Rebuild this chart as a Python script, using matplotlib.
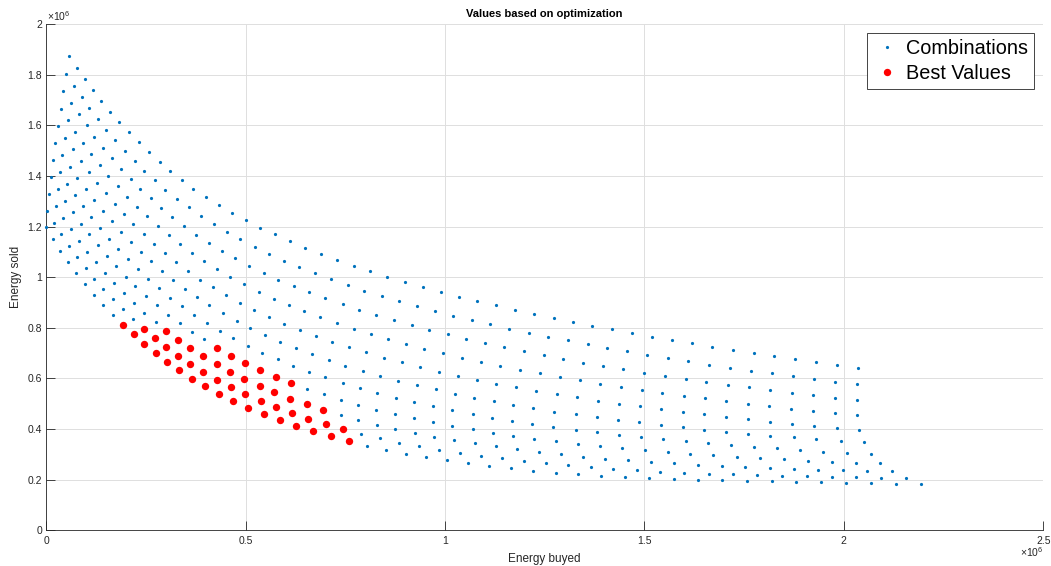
import numpy as np
import matplotlib.pyplot as plt

plt.rcParams.update({
    "font.family": ["Liberation Sans", "DejaVu Sans"],
    "mathtext.fontset": "custom",
    "mathtext.rm": "Liberation Sans",
    "mathtext.it": "Liberation Sans:italic",
})

# values in units of 1e6, one list per grid column (11 combinations each)
energy_buyed = [
    [0.058, 0.050, 0.043, 0.036, 0.030, 0.023, 0.018, 0.012, 0.008, 0.003, 0.000],
    [0.077, 0.069, 0.061, 0.054, 0.047, 0.040, 0.035, 0.030, 0.025, 0.020, 0.018],
    [0.097, 0.089, 0.081, 0.073, 0.067, 0.060, 0.053, 0.048, 0.043, 0.038, 0.035],
    [0.117, 0.108, 0.101, 0.093, 0.086, 0.078, 0.072, 0.067, 0.062, 0.058, 0.055],
    [0.138, 0.130, 0.121, 0.113, 0.106, 0.099, 0.092, 0.087, 0.082, 0.078, 0.075],
    [0.160, 0.151, 0.142, 0.134, 0.127, 0.120, 0.112, 0.107, 0.102, 0.099, 0.097],
    [0.183, 0.173, 0.164, 0.156, 0.149, 0.142, 0.136, 0.129, 0.124, 0.121, 0.120],
    [0.207, 0.197, 0.188, 0.179, 0.172, 0.164, 0.158, 0.152, 0.147, 0.143, 0.143],
    [0.232, 0.222, 0.212, 0.203, 0.195, 0.188, 0.181, 0.175, 0.170, 0.167, 0.168],
    [0.257, 0.246, 0.236, 0.227, 0.218, 0.212, 0.205, 0.199, 0.194, 0.192, 0.193],
    [0.284, 0.272, 0.262, 0.252, 0.245, 0.237, 0.229, 0.223, 0.220, 0.218, 0.219],
    [0.311, 0.299, 0.289, 0.279, 0.270, 0.262, 0.255, 0.250, 0.246, 0.245, 0.246],
    [0.340, 0.328, 0.316, 0.309, 0.297, 0.290, 0.283, 0.277, 0.274, 0.272, 0.275],
    [0.369, 0.358, 0.346, 0.336, 0.326, 0.318, 0.310, 0.305, 0.301, 0.300, 0.304],
    [0.401, 0.389, 0.376, 0.366, 0.356, 0.347, 0.341, 0.335, 0.331, 0.330, 0.334],
    [0.433, 0.420, 0.408, 0.396, 0.386, 0.377, 0.371, 0.365, 0.361, 0.361, 0.366],
    [0.467, 0.453, 0.440, 0.429, 0.418, 0.409, 0.403, 0.396, 0.393, 0.394, 0.399],
    [0.501, 0.487, 0.474, 0.462, 0.452, 0.443, 0.435, 0.429, 0.427, 0.428, 0.433],
    [0.536, 0.523, 0.509, 0.497, 0.486, 0.478, 0.469, 0.463, 0.461, 0.463, 0.469],
    [0.573, 0.559, 0.545, 0.533, 0.522, 0.512, 0.505, 0.499, 0.497, 0.499, 0.507],
    [0.611, 0.596, 0.582, 0.571, 0.559, 0.549, 0.542, 0.536, 0.537, 0.538, 0.545],
    [0.649, 0.635, 0.621, 0.608, 0.597, 0.587, 0.580, 0.575, 0.572, 0.576, 0.586],
    [0.689, 0.674, 0.660, 0.647, 0.636, 0.626, 0.618, 0.613, 0.612, 0.616, 0.627],
    [0.730, 0.714, 0.700, 0.687, 0.677, 0.667, 0.659, 0.655, 0.653, 0.657, 0.670],
    [0.771, 0.756, 0.743, 0.729, 0.717, 0.708, 0.700, 0.696, 0.695, 0.701, 0.713],
    [0.813, 0.798, 0.784, 0.771, 0.760, 0.750, 0.743, 0.739, 0.738, 0.744, 0.759],
    [0.855, 0.841, 0.827, 0.815, 0.803, 0.794, 0.786, 0.783, 0.783, 0.789, 0.805],
    [0.900, 0.885, 0.871, 0.858, 0.847, 0.838, 0.830, 0.828, 0.829, 0.837, 0.853],
    [0.944, 0.929, 0.916, 0.902, 0.892, 0.883, 0.876, 0.874, 0.875, 0.885, 0.902],
    [0.989, 0.974, 0.961, 0.948, 0.938, 0.930, 0.923, 0.922, 0.924, 0.935, 0.952],
    [1.034, 1.020, 1.007, 0.995, 0.985, 0.977, 0.971, 0.970, 0.973, 0.986, 1.004],
    [1.081, 1.067, 1.053, 1.042, 1.033, 1.024, 1.018, 1.018, 1.023, 1.037, 1.057],
    [1.128, 1.114, 1.101, 1.090, 1.080, 1.073, 1.069, 1.070, 1.075, 1.089, 1.110],
    [1.175, 1.161, 1.149, 1.138, 1.129, 1.122, 1.118, 1.120, 1.128, 1.142, 1.165],
    [1.223, 1.210, 1.197, 1.187, 1.179, 1.171, 1.168, 1.171, 1.181, 1.197, 1.221],
    [1.272, 1.259, 1.247, 1.238, 1.229, 1.221, 1.219, 1.224, 1.235, 1.253, 1.277],
    [1.320, 1.308, 1.296, 1.288, 1.280, 1.273, 1.270, 1.278, 1.290, 1.308, 1.334],
    [1.369, 1.358, 1.347, 1.339, 1.332, 1.328, 1.329, 1.334, 1.346, 1.365, 1.392],
    [1.418, 1.407, 1.397, 1.389, 1.384, 1.380, 1.382, 1.389, 1.402, 1.422, 1.451],
    [1.468, 1.457, 1.447, 1.441, 1.436, 1.434, 1.437, 1.445, 1.460, 1.482, 1.512],
    [1.518, 1.507, 1.500, 1.493, 1.489, 1.487, 1.492, 1.502, 1.517, 1.540, 1.573],
    [1.569, 1.558, 1.551, 1.545, 1.542, 1.542, 1.547, 1.558, 1.575, 1.600, 1.634],
    [1.619, 1.610, 1.603, 1.599, 1.596, 1.597, 1.603, 1.615, 1.634, 1.661, 1.695],
    [1.670, 1.662, 1.655, 1.651, 1.650, 1.650, 1.660, 1.673, 1.694, 1.722, 1.757],
    [1.722, 1.714, 1.709, 1.705, 1.705, 1.704, 1.716, 1.732, 1.753, 1.783, 1.819],
    [1.774, 1.767, 1.762, 1.760, 1.759, 1.759, 1.774, 1.790, 1.814, 1.846, 1.881],
    [1.826, 1.819, 1.815, 1.813, 1.814, 1.814, 1.833, 1.849, 1.875, 1.907, 1.944],
    [1.878, 1.873, 1.869, 1.868, 1.870, 1.874, 1.890, 1.910, 1.936, 1.970, 2.006],
    [1.930, 1.925, 1.923, 1.923, 1.926, 1.930, 1.949, 1.970, 1.997, 2.031, 2.069],
    [1.984, 1.979, 1.977, 1.978, 1.982, 1.992, 2.007, 2.031, 2.059, 2.094, 2.131],
    [2.036, 2.033, 2.032, 2.033, 2.039, 2.050, 2.067, 2.091, 2.121, 2.156, 2.194],
]

energy_sold = [
    [1.873, 1.803, 1.735, 1.666, 1.597, 1.529, 1.462, 1.395, 1.329, 1.262, 1.197],
    [1.828, 1.757, 1.688, 1.620, 1.550, 1.483, 1.415, 1.347, 1.281, 1.214, 1.150],
    [1.783, 1.713, 1.644, 1.574, 1.505, 1.437, 1.369, 1.301, 1.235, 1.170, 1.105],
    [1.740, 1.670, 1.600, 1.529, 1.460, 1.391, 1.325, 1.256, 1.189, 1.123, 1.060],
    [1.696, 1.626, 1.555, 1.486, 1.417, 1.349, 1.280, 1.211, 1.144, 1.079, 1.015],
    [1.654, 1.582, 1.512, 1.443, 1.373, 1.304, 1.237, 1.170, 1.101, 1.035, 0.973],
    [1.612, 1.541, 1.470, 1.401, 1.332, 1.262, 1.194, 1.126, 1.059, 0.993, 0.931],
    [1.573, 1.500, 1.429, 1.359, 1.289, 1.221, 1.152, 1.084, 1.018, 0.952, 0.889],
    [1.533, 1.460, 1.389, 1.318, 1.249, 1.179, 1.110, 1.043, 0.977, 0.913, 0.850],
    [1.494, 1.421, 1.350, 1.279, 1.209, 1.139, 1.071, 1.002, 0.936, 0.873, 0.812],
    [1.456, 1.383, 1.312, 1.241, 1.170, 1.100, 1.031, 0.964, 0.898, 0.834, 0.774],
    [1.420, 1.346, 1.273, 1.202, 1.131, 1.063, 0.993, 0.926, 0.860, 0.797, 0.737],
    [1.384, 1.310, 1.238, 1.167, 1.094, 1.025, 0.956, 0.889, 0.822, 0.761, 0.701],
    [1.350, 1.276, 1.202, 1.130, 1.059, 0.989, 0.919, 0.852, 0.787, 0.724, 0.666],
    [1.316, 1.242, 1.168, 1.096, 1.025, 0.955, 0.885, 0.818, 0.752, 0.690, 0.632],
    [1.284, 1.210, 1.136, 1.063, 0.990, 0.921, 0.852, 0.785, 0.719, 0.657, 0.599],
    [1.254, 1.179, 1.105, 1.031, 0.960, 0.889, 0.819, 0.755, 0.688, 0.626, 0.569],
    [1.225, 1.150, 1.075, 1.001, 0.929, 0.857, 0.787, 0.720, 0.656, 0.595, 0.540],
    [1.196, 1.121, 1.046, 0.972, 0.898, 0.827, 0.759, 0.690, 0.626, 0.565, 0.511],
    [1.170, 1.092, 1.017, 0.943, 0.869, 0.798, 0.729, 0.662, 0.598, 0.539, 0.484],
    [1.142, 1.065, 0.990, 0.915, 0.843, 0.770, 0.702, 0.635, 0.570, 0.512, 0.458],
    [1.117, 1.039, 0.964, 0.889, 0.816, 0.744, 0.676, 0.607, 0.545, 0.486, 0.435],
    [1.092, 1.015, 0.940, 0.865, 0.791, 0.719, 0.650, 0.583, 0.520, 0.462, 0.412],
    [1.068, 0.992, 0.917, 0.842, 0.768, 0.695, 0.627, 0.558, 0.498, 0.440, 0.391],
    [1.045, 0.968, 0.893, 0.818, 0.745, 0.673, 0.605, 0.537, 0.475, 0.419, 0.371],
    [1.023, 0.947, 0.870, 0.797, 0.723, 0.650, 0.582, 0.516, 0.454, 0.399, 0.352],
    [1.002, 0.926, 0.851, 0.776, 0.703, 0.629, 0.561, 0.496, 0.435, 0.381, 0.334],
    [0.981, 0.906, 0.830, 0.756, 0.682, 0.610, 0.541, 0.477, 0.416, 0.364, 0.317],
    [0.961, 0.886, 0.810, 0.736, 0.664, 0.591, 0.523, 0.460, 0.400, 0.346, 0.303],
    [0.942, 0.867, 0.791, 0.718, 0.645, 0.574, 0.506, 0.444, 0.383, 0.332, 0.288],
    [0.923, 0.848, 0.774, 0.699, 0.627, 0.557, 0.490, 0.428, 0.369, 0.317, 0.277],
    [0.906, 0.830, 0.756, 0.682, 0.610, 0.540, 0.474, 0.412, 0.356, 0.305, 0.265],
    [0.889, 0.814, 0.740, 0.666, 0.594, 0.524, 0.460, 0.399, 0.344, 0.294, 0.254],
    [0.872, 0.797, 0.723, 0.650, 0.579, 0.510, 0.445, 0.386, 0.332, 0.285, 0.245],
    [0.856, 0.781, 0.707, 0.635, 0.565, 0.495, 0.432, 0.374, 0.320, 0.274, 0.235],
    [0.840, 0.765, 0.691, 0.620, 0.550, 0.482, 0.420, 0.362, 0.311, 0.265, 0.228],
    [0.824, 0.751, 0.678, 0.607, 0.537, 0.469, 0.408, 0.353, 0.300, 0.257, 0.222],
    [0.808, 0.735, 0.662, 0.593, 0.526, 0.460, 0.398, 0.342, 0.291, 0.249, 0.215],
    [0.794, 0.720, 0.649, 0.579, 0.512, 0.448, 0.387, 0.332, 0.283, 0.242, 0.209],
    [0.780, 0.707, 0.636, 0.567, 0.500, 0.437, 0.378, 0.324, 0.277, 0.237, 0.206],
    [0.765, 0.694, 0.623, 0.556, 0.490, 0.427, 0.367, 0.316, 0.270, 0.232, 0.202],
    [0.752, 0.680, 0.611, 0.544, 0.478, 0.417, 0.360, 0.309, 0.265, 0.228, 0.199],
    [0.739, 0.668, 0.599, 0.532, 0.467, 0.407, 0.352, 0.303, 0.259, 0.224, 0.198],
    [0.725, 0.654, 0.587, 0.522, 0.458, 0.398, 0.344, 0.296, 0.254, 0.221, 0.195],
    [0.712, 0.642, 0.575, 0.511, 0.448, 0.390, 0.337, 0.290, 0.250, 0.219, 0.194],
    [0.699, 0.631, 0.565, 0.500, 0.439, 0.382, 0.330, 0.285, 0.246, 0.216, 0.191],
    [0.688, 0.620, 0.553, 0.490, 0.429, 0.374, 0.324, 0.281, 0.243, 0.215, 0.190],
    [0.676, 0.609, 0.544, 0.480, 0.421, 0.367, 0.317, 0.275, 0.239, 0.212, 0.187],
    [0.664, 0.598, 0.533, 0.471, 0.413, 0.361, 0.311, 0.271, 0.237, 0.211, 0.186],
    [0.653, 0.587, 0.524, 0.462, 0.405, 0.353, 0.307, 0.267, 0.236, 0.208, 0.184],
    [0.642, 0.577, 0.515, 0.454, 0.398, 0.348, 0.302, 0.265, 0.233, 0.207, 0.183],
]

# which rows of each column were picked as best values
best_rows = {
    9: [10], 10: [10], 11: [9, 10], 12: [9, 10],
    13: [8, 9, 10], 14: [8, 9, 10], 15: [8, 9, 10], 16: [8, 9, 10],
    17: [7, 8, 9, 10], 18: [7, 8, 9, 10], 19: [7, 8, 9, 10],
    20: [7, 8, 9, 10], 21: [7, 8, 9, 10], 22: [7, 8, 9, 10],
    23: [8, 9, 10], 24: [8, 9, 10], 25: [9, 10],
}

buy = np.array(energy_buyed)
sold = np.array(energy_sold)
best_x = [buy[c, r] for c, rows in best_rows.items() for r in rows]
best_y = [sold[c, r] for c, rows in best_rows.items() for r in rows]

dark = "#262626"

fig = plt.figure(figsize=(10.51, 5.66), dpi=100)
ax = fig.add_axes([0.044, 0.0631, 0.9486, 0.8942])

ax.plot(buy.ravel(), sold.ravel(), linestyle="none", marker="o", ms=2.3,
        mew=0, color="#0072BD", label="Combinations", clip_on=False, zorder=3)
ax.plot(best_x, best_y, linestyle="none", marker="o", ms=5.3, mew=0,
        color="#FF0000", label="Best Values", zorder=4)

ax.set_xlim(0, 2.5)
ax.set_ylim(0, 2)
ax.set_xticks(np.arange(0, 2.51, 0.5))
ax.set_yticks(np.arange(0, 2.01, 0.2))
ax.xaxis.set_major_formatter(plt.FuncFormatter(lambda v, p: f"{v:g}"))
ax.yaxis.set_major_formatter(plt.FuncFormatter(lambda v, p: f"{v:g}"))

ax.grid(True, color="#dedede", linewidth=0.7)
ax.set_axisbelow(True)
for side in ["top", "right"]:
    ax.spines[side].set_visible(False)
for side in ["left", "bottom"]:
    ax.spines[side].set_color(dark)
    ax.spines[side].set_linewidth(0.6)
ax.tick_params(direction="in", length=6.7, width=0.6, color=dark,
               labelcolor=dark, labelsize=7.5)
ax.tick_params(axis="x", pad=4)
ax.tick_params(axis="y", pad=3)

ax.set_title("Values based on optimization", fontsize=8, fontweight="bold",
             color="black", pad=5)
ax.set_xlabel("Energy buyed", fontsize=8.5, color=dark, labelpad=5)
ax.set_ylabel("Energy sold", fontsize=8.5, color=dark, labelpad=4)

ax.annotate(r"$\times10^{6}$", xy=(0, 1), xycoords="axes fraction",
            xytext=(0.5, 0.5), textcoords="offset points",
            ha="left", va="bottom", fontsize=7.5, color=dark)
ax.annotate(r"$\times10^{6}$", xy=(1, 0), xycoords="axes fraction",
            xytext=(0, -11), textcoords="offset points",
            ha="right", va="top", fontsize=7.5, color=dark)

leg = ax.legend(loc="upper right", fontsize=14.3, frameon=True, fancybox=False,
                edgecolor=dark, framealpha=1, borderpad=0.3, labelspacing=0.29,
                handlelength=1.35, handletextpad=0.31, borderaxespad=0.45,
                numpoints=1)
leg.get_frame().set_linewidth(0.6)

fig.savefig("out.png", dpi=100)
